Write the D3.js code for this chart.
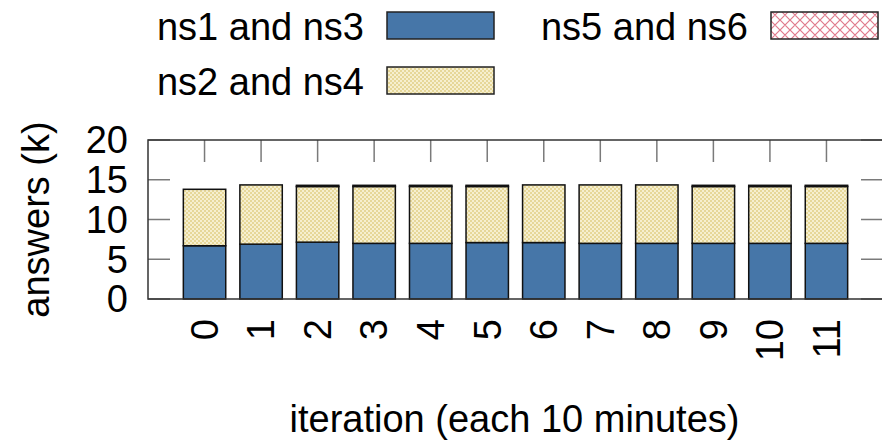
<!DOCTYPE html>
<html><head><meta charset="utf-8">
<script src="https://cdn.jsdelivr.net/npm/d3@7/dist/d3.min.js"></script>
<style>
html,body{margin:0;padding:0;background:#fff;}
svg{display:block;font-family:"Liberation Sans",Arial,Helvetica,sans-serif;}
</style></head>
<body><svg id="c" width="882" height="447"></svg>
<script>
const iterations = ["0","1","2","3","4","5","6","7","8","9","10","11"];
const ns13 = [6.7, 6.9, 7.15, 7.0, 7.0, 7.1, 7.1, 7.0, 7.0, 7.0, 7.0, 7.0];
const ns24 = [7.1, 7.45, 7.0, 7.15, 7.15, 7.05, 7.25, 7.35, 7.35, 7.15, 7.15, 7.15];
const ns56 = [0, 0, 0.15, 0.15, 0.15, 0.15, 0, 0, 0, 0.15, 0.15, 0.15];
const seriesNames = ["ns1 and ns3", "ns2 and ns4", "ns5 and ns6"];
const yTicks = [0, 5, 10, 15, 20];

const svg = d3.select("#c");
const defs = svg.append("defs");
// yellow dotted pattern
const py = defs.append("pattern").attr("id","pYel").attr("patternUnits","userSpaceOnUse").attr("width",4).attr("height",4);
py.append("rect").attr("width",4).attr("height",4).attr("fill","#e6d799");
py.append("rect").attr("x",0).attr("y",0).attr("width",2).attr("height",2).attr("fill","#f6efcf");
py.append("rect").attr("x",2).attr("y",2).attr("width",2).attr("height",2).attr("fill","#f6efcf");
// red crosshatch
const pr = defs.append("pattern").attr("id","pRed").attr("patternUnits","userSpaceOnUse").attr("width",10).attr("height",10);
pr.append("rect").attr("width",10).attr("height",10).attr("fill","#fff");
pr.append("path").attr("d","M0,0L10,10M10,0L0,10M-5,5L5,15M5,-5L15,5M5,15L15,5M-5,5L5,-5").attr("stroke","#e07a8c").attr("stroke-width",1.2).attr("fill","none");

const fills = ["#4676a8", "url(#pYel)", "url(#pRed)"];

const L = 148, R = 883, T = 140, B = 299;
const x = d3.scaleLinear().domain([-1, 12]).range([L, R]);
const y = d3.scaleLinear().domain([0, 20]).range([B, T]);
const bw = x(0.75) - x(0);
const tickLen = 22;
const fs = 38;

// ticks (mirrored, inward)
const gT = svg.append("g").attr("stroke","#7a7a7a").attr("stroke-width",1.5);
yTicks.forEach(v => {
  gT.append("line").attr("x1",L).attr("x2",L+tickLen).attr("y1",y(v)).attr("y2",y(v));
  gT.append("line").attr("x1",R).attr("x2",R-tickLen).attr("y1",y(v)).attr("y2",y(v));
});
iterations.forEach((c,i) => {
  gT.append("line").attr("x1",x(i)).attr("x2",x(i)).attr("y1",T).attr("y2",T+tickLen);
  gT.append("line").attr("x1",x(i)).attr("x2",x(i)).attr("y1",B).attr("y2",B-tickLen);
});

// bars
const stacks = [ns13, ns24, ns56];
const gB = svg.append("g");
iterations.forEach((c,i) => {
  let base = 0;
  stacks.forEach((arr,k) => {
    const v = arr[i];
    if (v > 0) {
      gB.append("rect")
        .attr("x", x(i) - bw/2).attr("width", bw)
        .attr("y", y(base + v)).attr("height", y(base) - y(base + v))
        .attr("fill", fills[k]).attr("stroke","#111").attr("stroke-width",1.5);
    }
    base += v;
  });
});

// frame
svg.append("path").attr("d",`M${L},${T}H${R}V${B}H${L}Z`).attr("fill","none").attr("stroke","#333").attr("stroke-width",1.5);

// y tick labels
svg.append("g").selectAll("text").data(yTicks).join("text")
  .attr("x", 128).attr("y", d => y(d)).attr("dy","0.35em")
  .attr("text-anchor","end").attr("font-size",fs).attr("fill","#000").text(d => d);

// x tick labels (rotated)
svg.append("g").selectAll("text").data(iterations).join("text")
  .attr("transform",(d,i) => `translate(${x(i)},319) rotate(-90)`)
  .attr("dy","0.35em").attr("text-anchor","end").attr("font-size",fs).attr("fill","#000").text(d => d);

// axis titles
svg.append("text").attr("transform",`translate(36,${(T+B)/2}) rotate(-90)`)
  .attr("dy","0.35em").attr("text-anchor","middle").attr("font-size",fs).text("answers (k)");
svg.append("text").attr("x",(L+R)/2 - 1).attr("y",432)
  .attr("text-anchor","middle").attr("font-size",fs).text("iteration (each 10 minutes)");

// legend
const leg = [
  {name: seriesNames[0], tx: 364, bx: 387, by: 12, fill: fills[0]},
  {name: seriesNames[1], tx: 364, bx: 387, by: 67, fill: fills[1]},
  {name: seriesNames[2], tx: 748, bx: 771, by: 12, fill: fills[2]}
];
leg.forEach(d => {
  svg.append("text").attr("x",d.tx).attr("y",d.by+28).attr("text-anchor","end").attr("font-size",fs).text(d.name);
  svg.append("rect").attr("x",d.bx).attr("y",d.by).attr("width",107).attr("height",27)
    .attr("fill",d.fill).attr("stroke","#222").attr("stroke-width",1.5);
});
</script></body></html>
